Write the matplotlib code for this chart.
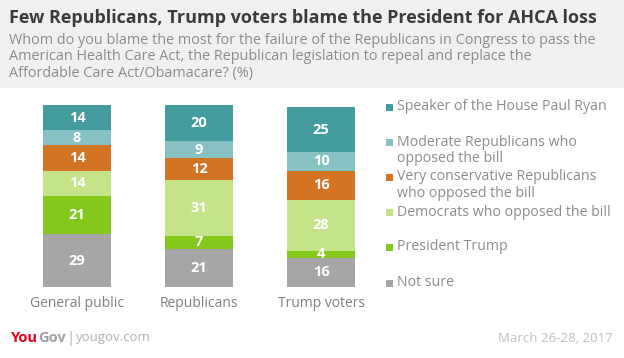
import matplotlib.pyplot as plt
from matplotlib.patches import Rectangle

categories = ["General public", "Republicans", "Trump voters"]
series_names = [
    "Not sure",
    "President Trump",
    "Democrats who opposed the bill",
    "Very conservative Republicans\nwho opposed the bill",
    "Moderate Republicans who\nopposed the bill",
    "Speaker of the House Paul Ryan",
]
not_sure = [29, 21, 16]
trump = [21, 7, 4]
democrats = [14, 31, 28]
very_cons = [14, 12, 16]
moderate = [8, 9, 10]
speaker = [14, 20, 25]
series = [not_sure, trump, democrats, very_cons, moderate, speaker]
colors = ["#a6a6a6", "#84c81c", "#c5e48a", "#d27424", "#88c1c3", "#459c9e"]

W, H = 624, 358
plt.rcParams["font.family"] = ["Open Sans", "DejaVu Sans"]
fig = plt.figure(figsize=(W / 100, H / 100), dpi=100)
fig.patch.set_facecolor("white")


def fx(px):
    return px / W


def fy(py):
    return 1 - py / H


# header band
fig.patches.append(Rectangle((0, fy(88)), 1, 88 / H, transform=fig.transFigure,
                             facecolor="#f0f0f0", edgecolor="none", zorder=0))

fig.text(fx(9), fy(18), "Few Republicans, Trump voters blame the President for AHCA loss",
         fontsize=13, fontweight="bold", color="#3c3c3c", va="center", ha="left")
sub_lines = [
    "Whom do you blame the most for the failure of the Republicans in Congress to pass the",
    "American Health Care Act, the Republican legislation to repeal and replace the",
    "Affordable Care Act/Obamacare? (%)",
]
for k, line in enumerate(sub_lines):
    fig.text(fx(9), fy(40 + 17 * k), line, fontsize=10.4, color="#8c8c8c",
             va="center", ha="left")

# bar axes: x unit = 122 px, y 0..100 -> px 287..105
x0 = 77 - 0.6 * 122
ax = fig.add_axes([fx(x0), (H - 287) / H, 3.2 * 122 / W, 182 / H])
ax.set_xlim(-0.6, 2.6)
ax.set_ylim(0, 100)
ax.axis("off")

xs = range(len(categories))
bottoms = [0] * len(categories)
for vals, col in zip(series, colors):
    ax.bar(xs, vals, bottom=bottoms, width=0.557, color=col, edgecolor="none")
    for i, v in enumerate(vals):
        ax.text(i, bottoms[i] + v / 2, str(v), ha="center", va="center",
                color="white", fontsize=10.5, fontweight="bold")
    bottoms = [b + v for b, v in zip(bottoms, vals)]

for i, c in enumerate(categories):
    ax.text(i, -9, c, ha="center", va="center", fontsize=10, color="#808080")

# legend, top to bottom
leg_y = [107, 142, 177, 212, 247, 283]
for name, col, y in zip(series_names[::-1], colors[::-1], leg_y):
    fig.patches.append(Rectangle((fx(386), fy(y + 3.5)), 7 / W, 7 / H,
                                 transform=fig.transFigure, facecolor=col,
                                 edgecolor="none"))
    for k, line in enumerate(name.split("\n")):
        fig.text(fx(397), fy(y + 16.5 * k), line, fontsize=10.2, color="#8c8c8c",
                 va="center", ha="left")

# footer
fig.canvas.draw()
r = fig.canvas.get_renderer()
x = 11
for s, size, weight, col, gap in [("You", 10.5, "bold", "#e3001b", 0),
                                  ("Gov", 10.5, "bold", "#a0a0a0", 1),
                                  ("|", 11, "normal", "#b0b0b0", 1),
                                  ("yougov.com", 9.5, "normal", "#b0b0b0", 0)]:
    t = fig.text(fx(x), fy(338), s, fontsize=size, fontweight=weight, color=col,
                 va="center", ha="left")
    x += t.get_window_extent(r).width + gap
fig.text(fx(613), fy(338), "March 26-28, 2017", fontsize=9.5, color="#c0c0c0",
         va="center", ha="right")

fig.savefig("out.png", dpi=100, facecolor=fig.get_facecolor())
